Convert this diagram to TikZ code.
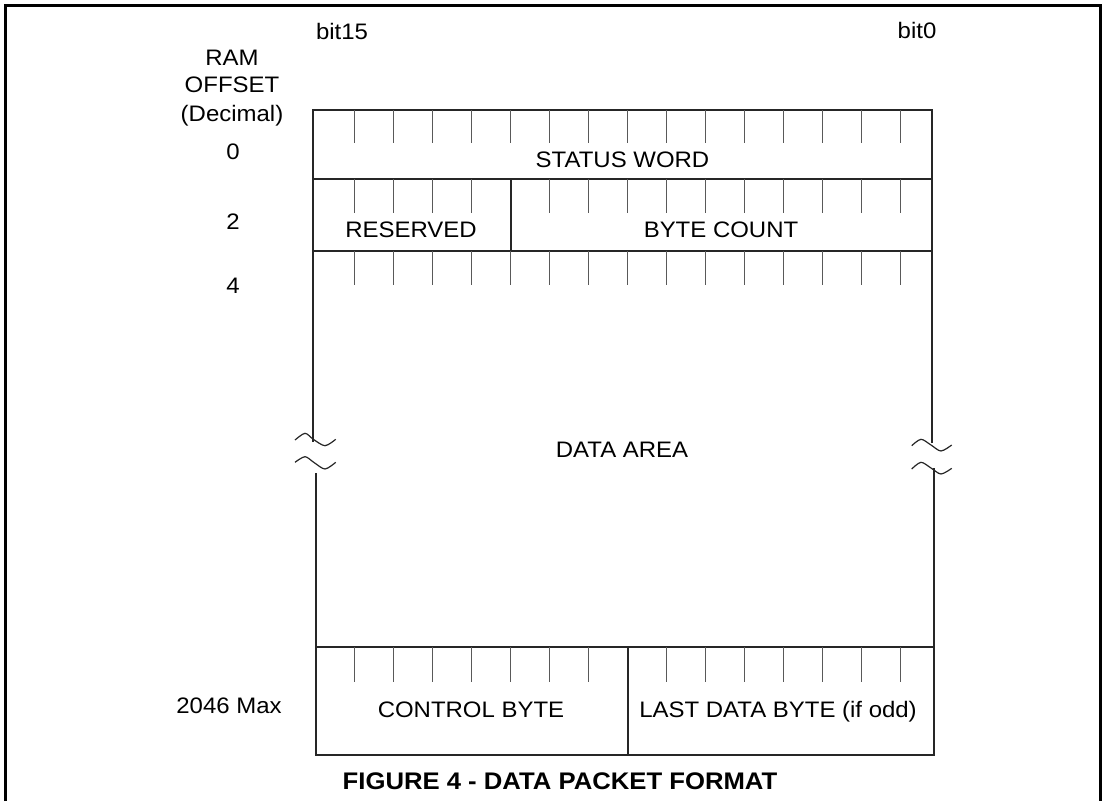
\documentclass[tikz,border=0pt]{standalone}
\usepackage{fontspec}
\setmainfont{Liberation Sans}[FakeStretch=1.07]
\begin{document}
\begin{tikzpicture}[x=1pt,y=-1pt,
  frameline/.style={line width=2.7pt,black},
  boxline/.style={line width=1.4pt,black!85},
  tickline/.style={line width=1pt,black!65},
  label/.style={inner sep=0pt,anchor=base,font=\fontsize{22.4}{27}\selectfont},
  captionstyle/.style={inner sep=0pt,anchor=base,font=\fontsize{24}{29}\selectfont\bfseries}]
\useasboundingbox (0,0) rectangle (1102,801);
% frame
\draw[frameline] (5.3,801) -- (5.3,5.3) -- (1100.5,5.3) -- (1100.5,801);
% top rows of the packet box
\draw[boxline] (313,442) -- (313,110) -- (932,110) -- (932,443);
\draw[boxline] (313,179) -- (932,179);
\draw[boxline] (313,251) -- (932,251);
\draw[boxline] (511,179) -- (511,251);
% ticks rows 1-3
\foreach \k in {0,...,14}{
  \pgfmathsetmacro{\tx}{354+39.07*\k}
  \draw[tickline] (\tx,110) -- (\tx,143);
  \ifnum\k=4\else\draw[tickline] (\tx,179) -- (\tx,213);\fi
  \draw[tickline] (\tx,251) -- (\tx,285);
}
% lower part
\draw[boxline] (316,473) -- (316,755) -- (934,755) -- (934,468);
\draw[boxline] (316,647) -- (934,647);
\draw[boxline] (628,647) -- (628,755);
\foreach \k in {0,...,14}{
  \pgfmathsetmacro{\tx}{354+39.07*\k}
  \ifnum\k=7\else\draw[tickline] (\tx,647) -- (\tx,682);\fi
}
% break marks
\draw[boxline,line width=1.2pt] plot[smooth] coordinates {(295,440) (305,433.3) (313.3,439.3) (325,445.7) (335.7,439.3)};
\draw[boxline,line width=1.2pt] plot[smooth] coordinates {(295,462.3) (305,456.7) (314,462.5) (325,469) (335.7,462.3)};
\draw[boxline,line width=1.2pt] plot[smooth] coordinates {(911.7,445.7) (921,439.3) (931,445) (941,451) (951.7,445)};
\draw[boxline,line width=1.2pt] plot[smooth] coordinates {(911.7,469) (921,462.3) (931,468) (941,474) (951.7,468.3)};
% labels
\node[label] (b15) at (342,39) {bit15};
\node[label] (b0) at (917,38) {bit0};
\node[label] (ram) at (232,65) {RAM};
\node[label] (off) at (232,92) {OFFSET};
\node[label] (dec) at (232,121) {(Decimal)};
\node[label] (o0) at (233,159) {0};
\node[label] (o2) at (233,229) {2};
\node[label] (o4) at (233,293) {4};
\node[label] (omax) at (229,713) {2046 Max};
\node[label] (sw) at (622.5,167.7) {STATUS WORD};
\node[label] (res) at (411,237) {RESERVED};
\node[label] (bc) at (721,237) {BYTE COUNT};
\node[label] (da) at (622,457) {DATA AREA};
\node[label] (cb) at (471,717) {CONTROL BYTE};
\node[label] (ldb) at (778,717) {LAST DATA BYTE (if odd)};
\node[captionstyle] (cap) at (560,789) {FIGURE 4 - DATA PACKET FORMAT};
\end{tikzpicture}
\end{document}
